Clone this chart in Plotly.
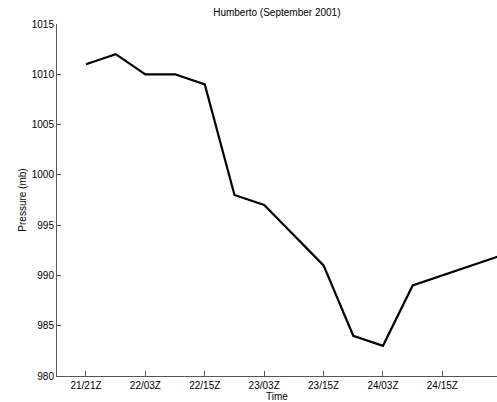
import plotly.graph_objects as go

# 6-hourly steps starting at 21/21Z
step_index = list(range(15))
pressure = [1011, 1012, 1010, 1010, 1009, 998, 997, 994, 991, 984, 983, 989, 990, 991, 992]
tick_pos = [0, 2, 4, 6, 8, 10, 12]
tick_labels = ["21/21Z", "22/03Z", "22/15Z", "23/03Z", "23/15Z", "24/03Z", "24/15Z"]

font = "Arial, Liberation Sans, sans-serif"
axis_color = "#555555"

fig = go.Figure()
fig.add_trace(go.Scatter(x=step_index, y=pressure, mode="lines",
                         line=dict(color="black", width=2.2), showlegend=False))

fig.update_layout(
    width=497, height=402,
    margin=dict(l=57, r=0, t=24, b=26),
    paper_bgcolor="white", plot_bgcolor="white",
    font=dict(family=font, size=10, color="black"),
    title=dict(text="Humberto (September 2001)", x=0.557, xanchor="center",
               y=1 - 12 / 402, yanchor="middle", font=dict(size=10, family=font)),
)
fig.update_xaxes(
    range=[-0.976, 13.84], tickmode="array", tickvals=tick_pos, ticktext=tick_labels,
    showgrid=False, zeroline=False, showline=True, linecolor=axis_color, linewidth=1,
    ticks="inside", ticklen=5, tickcolor=axis_color,
    title=dict(text="Time", standoff=3, font=dict(size=10)),
)
fig.update_yaxes(
    range=[980, 1015], tickmode="array", tickvals=[980, 985, 990, 995, 1000, 1005, 1010, 1015],
    showgrid=False, zeroline=False, showline=True, linecolor=axis_color, linewidth=1,
    ticks="inside", ticklen=4, tickcolor=axis_color,
    title=dict(text="Pressure (mb)", standoff=3, font=dict(size=10)),
)

fig.write_html("out.html")
